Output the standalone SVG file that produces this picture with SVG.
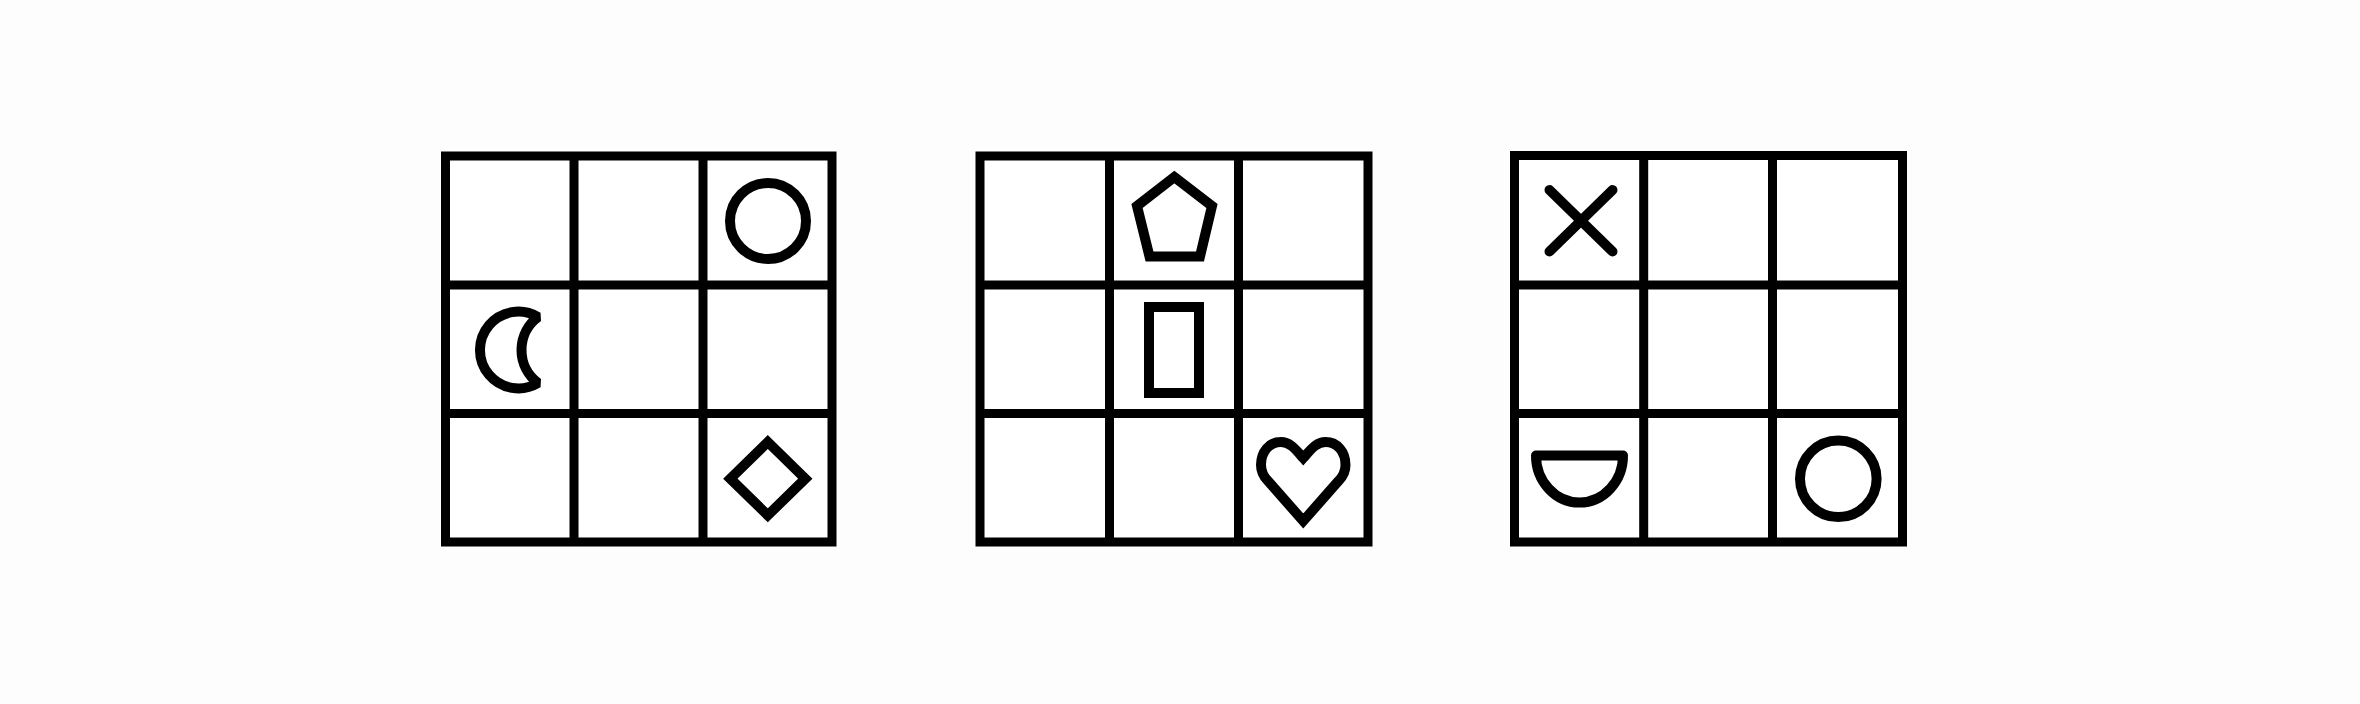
<svg xmlns="http://www.w3.org/2000/svg" width="2360" height="704" viewBox="0 0 2360 704">
  <style>
    .frame { fill: #ffffff; stroke: #000000; stroke-width: 9; }
    .div { stroke: #000000; stroke-width: 9; fill: none; }
    .shape { fill: none; stroke: #000000; stroke-width: 10; stroke-linejoin: miter; }
    .round { fill: none; stroke: #000000; stroke-width: 10; stroke-linecap: round; stroke-linejoin: round; }
  </style>
  <rect x="0" y="0" width="2360" height="704" fill="#fdfdfd"/>

  <g id="grid1">
    <rect class="frame" x="445.5" y="156" width="386.5" height="386"/>
    <line class="div" x1="574" y1="156" x2="574" y2="542"/>
    <line class="div" x1="703" y1="156" x2="703" y2="542"/>
    <line class="div" x1="445.5" y1="285" x2="832" y2="285"/>
    <line class="div" x1="445.5" y1="413.5" x2="832" y2="413.5"/>
    <g id="g1-circle"><circle class="shape" cx="768" cy="221" r="38"/></g>
    <g id="g1-crescent"><path class="shape" stroke-miterlimit="1.5" d="M538,317 A38.4,38.4 0 1 0 538,383 A41.25,41.25 0 0 1 538,317 Z"/></g>
    <g id="g1-diamond"><path class="shape" d="M767.8,442 L805.3,478.7 L767.8,515.3 L730.3,478.7 Z"/></g>
  </g>

  <g id="grid2">
    <rect class="frame" x="980" y="156" width="388" height="386"/>
    <line class="div" x1="1109.5" y1="156" x2="1109.5" y2="542"/>
    <line class="div" x1="1238.5" y1="156" x2="1238.5" y2="542"/>
    <line class="div" x1="980" y1="285" x2="1368" y2="285"/>
    <line class="div" x1="980" y1="413.5" x2="1368" y2="413.5"/>
    <g id="g2-pentagon"><path class="shape" d="M1174.3,177 L1212,206 L1200,256.5 L1149.5,256.5 L1137,206 Z"/></g>
    <g id="g2-rectangle"><rect class="shape" x="1149" y="307" width="50" height="86"/></g>
    <g id="g2-heart"><path class="shape" stroke-miterlimit="1.6" d="M1303.25,458 C1295.25,449 1290,442 1281,442 C1269,442 1261,452 1261,465 C1261,472 1264,477 1268,481 L1303.25,521 L1338.5,481 C1342.5,477 1345.5,472 1345.5,465 C1345.5,452 1337.5,442 1325.5,442 C1316.5,442 1311.25,449 1303.25,458 Z"/></g>
  </g>

  <g id="grid3">
    <rect class="frame" x="1514.5" y="155.5" width="388" height="386.5"/>
    <line class="div" x1="1643.7" y1="155.5" x2="1643.7" y2="542"/>
    <line class="div" x1="1772.5" y1="155.5" x2="1772.5" y2="542"/>
    <line class="div" x1="1514.5" y1="285" x2="1902.5" y2="285"/>
    <line class="div" x1="1514.5" y1="413.5" x2="1902.5" y2="413.5"/>
    <g id="g3-cross">
      <line class="round" x1="1549.5" y1="190" x2="1612.5" y2="251.5"/>
      <line class="round" x1="1612.5" y1="190" x2="1549.5" y2="251.5"/>
    </g>
    <g id="g3-semicircle"><path class="round" d="M1536,455.5 L1623,455.5 A43.5,47 0 0 1 1536,455.5 Z"/></g>
    <g id="g3-circle"><circle class="shape" cx="1838.3" cy="478.8" r="38.3"/></g>
  </g>
</svg>
